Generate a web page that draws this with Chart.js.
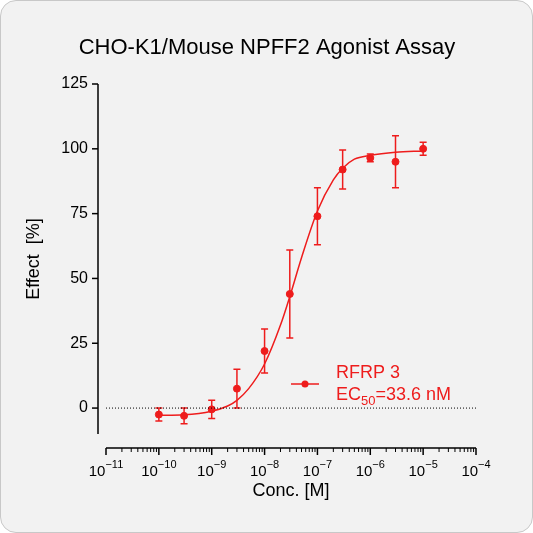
<!DOCTYPE html>
<html><head><meta charset="utf-8">
<script src="https://cdn.jsdelivr.net/npm/chart.js@4"></script>
<style>
html,body{margin:0;padding:0;background:#fff}
#wrap{position:absolute;left:0;top:0;width:531px;height:531px;border:1px solid #c8c8c8;border-radius:16px;background:#f2f2f2;overflow:hidden}
canvas{position:absolute;left:0;top:0}
</style></head><body>
<div id="wrap"><canvas id="c" width="533" height="533"></canvas></div>
<script>
// measured points
const conc = [1e-10, 3e-10, 1e-9, 3e-9, 1e-8, 3e-8, 1e-7, 3e-7, 1e-6, 3e-6, 1e-5];
const effect = [-2.5, -3, -0.5, 7.5, 22, 44, 74, 92, 96.5, 95, 100];
const errors = [2.5, 3, 3.5, 7.5, 8.5, 17, 11, 7.5, 1.5, 10, 2.5];
// fitted curve
const curveX = [1e-10, 3e-10, 1e-9, 2e-9, 3e-9, 5e-9, 1e-8, 2e-8, 3e-8, 5e-8, 1e-7, 2e-7, 3e-7, 5e-7, 1e-6, 3e-6, 1e-5];
const curveY = [-2.8, -2.6, -1.2, 0.8, 3, 7.5, 17, 32, 43, 58, 76, 88, 92.5, 96, 97.5, 98.7, 99.2];
const yTicks = [0, 25, 50, 75, 100, 125];
const xDecades = [-11, -10, -9, -8, -7, -6, -5, -4];

const RED = '#ee1c1c';
const FONT = '"Liberation Sans", Arial, sans-serif';

const decor = {
    id: 'decor',
    afterDatasetsDraw(chart) {
        const ctx = chart.ctx, x = chart.scales.x, y = chart.scales.y;
        const a = chart.chartArea;
        ctx.save();
        // error bars
        ctx.strokeStyle = RED; ctx.lineWidth = 1.5;
        conc.forEach((c, i) => {
            const px = x.getPixelForValue(c);
            const t = y.getPixelForValue(effect[i] + errors[i]);
            const b = y.getPixelForValue(effect[i] - errors[i]);
            ctx.beginPath();
            ctx.moveTo(px, t); ctx.lineTo(px, b);
            ctx.moveTo(px - 3.5, t); ctx.lineTo(px + 3.5, t);
            ctx.moveTo(px - 3.5, b); ctx.lineTo(px + 3.5, b);
            ctx.stroke();
        });
        // zero line
        ctx.strokeStyle = '#000'; ctx.lineWidth = 1; ctx.setLineDash([1, 2]);
        const y0 = y.getPixelForValue(0);
        ctx.beginPath(); ctx.moveTo(a.left, y0); ctx.lineTo(a.right, y0); ctx.stroke();
        ctx.setLineDash([]);
        // y axis
        const ax = a.left - 8;
        ctx.lineWidth = 1.5;
        ctx.beginPath(); ctx.moveTo(ax, a.top); ctx.lineTo(ax, a.bottom); ctx.stroke();
        ctx.fillStyle = '#000'; ctx.font = '16px ' + FONT;
        ctx.textAlign = 'right'; ctx.textBaseline = 'middle';
        yTicks.forEach(v => {
            const py = y.getPixelForValue(v);
            ctx.beginPath(); ctx.moveTo(ax - 6, py); ctx.lineTo(ax, py); ctx.stroke();
            ctx.fillText(String(v), ax - 10, py);
        });
        // x axis
        const ay = a.bottom + 14;
        ctx.beginPath(); ctx.moveTo(a.left, ay); ctx.lineTo(a.right, ay); ctx.stroke();
        xDecades.forEach((d, k) => {
            const px = x.getPixelForValue(Math.pow(10, d));
            ctx.lineWidth = 1.5;
            ctx.beginPath(); ctx.moveTo(px, ay); ctx.lineTo(px, ay + 7); ctx.stroke();
            if (k < xDecades.length - 1) {
                ctx.lineWidth = 1;
                for (let m = 2; m <= 9; m++) {
                    const mx = x.getPixelForValue(m * Math.pow(10, d));
                    ctx.beginPath(); ctx.moveTo(mx, ay); ctx.lineTo(mx, ay + 4); ctx.stroke();
                }
            }
            ctx.font = '15px ' + FONT;
            const w1 = ctx.measureText('10').width;
            ctx.font = '11px ' + FONT;
            const sup = String(d).replace('-', '\u2212');
            const w2 = ctx.measureText(sup).width;
            const sx = px - (w1 + w2) / 2;
            ctx.textAlign = 'left'; ctx.textBaseline = 'alphabetic';
            ctx.font = '15px ' + FONT; ctx.fillText('10', sx, ay + 28);
            ctx.font = '11px ' + FONT; ctx.fillText(sup, sx + w1, ay + 20);
        });
        // titles
        ctx.textAlign = 'center'; ctx.textBaseline = 'middle';
        ctx.font = '18px ' + FONT;
        ctx.fillText('Conc. [M]', (a.left + a.right) / 2, 490);
        ctx.font = '22px ' + FONT;
        ctx.fillText('CHO-K1/Mouse NPFF2 Agonist Assay', 266, 47);
        ctx.save();
        ctx.translate(33, 258); ctx.rotate(-Math.PI / 2);
        ctx.font = '18px ' + FONT; ctx.fillText('Effect  [%]', 0, 0);
        ctx.restore();
        // legend
        ctx.strokeStyle = RED; ctx.fillStyle = RED; ctx.lineWidth = 1.5;
        ctx.beginPath(); ctx.moveTo(290, 383); ctx.lineTo(318, 383); ctx.stroke();
        ctx.beginPath(); ctx.arc(304, 383, 3.5, 0, 2 * Math.PI); ctx.fill();
        ctx.textAlign = 'left'; ctx.font = '18px ' + FONT;
        ctx.fillText('RFRP 3', 335, 372);
        ctx.fillText('EC', 335, 394);
        const wEC = ctx.measureText('EC').width;
        ctx.font = '13px ' + FONT; ctx.fillText('50', 335 + wEC, 400);
        const w50 = ctx.measureText('50').width;
        ctx.font = '18px ' + FONT; ctx.fillText('=33.6 nM', 335 + wEC + w50, 394);
        ctx.restore();
    }
};

new Chart(document.getElementById('c'), {
    type: 'scatter',
    data: {
        datasets: [
            {
                type: 'line',
                data: curveX.map((c, i) => ({ x: c, y: curveY[i] })),
                borderColor: RED, borderWidth: 1.5, pointRadius: 0,
                tension: 0.4, cubicInterpolationMode: 'monotone'
            },
            {
                data: conc.map((c, i) => ({ x: c, y: effect[i] })),
                backgroundColor: RED, borderColor: RED, pointRadius: 3.5
            }
        ]
    },
    options: {
        responsive: false, animation: false, devicePixelRatio: 1,
        layout: { padding: { left: 105, right: 58, top: 83, bottom: 100 } },
        plugins: { legend: { display: false }, tooltip: { enabled: false } },
        scales: {
            x: { type: 'logarithmic', min: 1e-11, max: 1e-4, display: false },
            y: { min: -10, max: 125, display: false }
        }
    },
    plugins: [decor]
});
</script>
</body></html>
